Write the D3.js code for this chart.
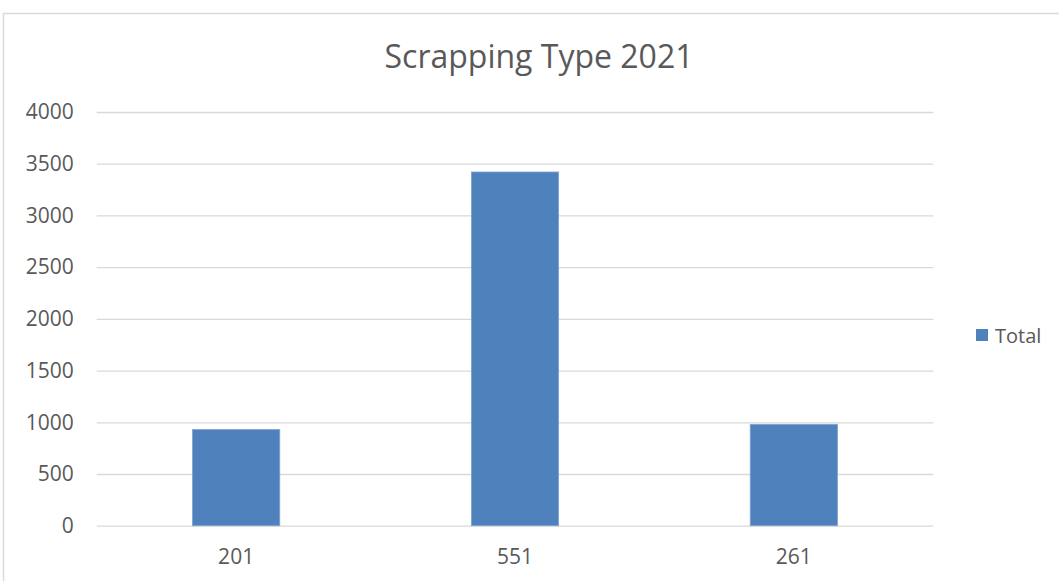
<!DOCTYPE html>
<html><head><meta charset="utf-8">
<script src="https://cdn.jsdelivr.net/npm/d3@7"></script>
<style>body{margin:0;background:#fff}svg{display:block}text{font-family:"Open Sans","Liberation Sans",sans-serif;fill:#595959}</style>
</head><body><svg id="c" width="1059" height="581"></svg>
<script>
const categories = ["201", "551", "261"];
const totals = [930, 3420, 980];
const yTicks = [0, 500, 1000, 1500, 2000, 2500, 3000, 3500, 4000];
const title = "Scrapping Type 2021";
const seriesName = "Total";

const svg = d3.select("#c");
svg.append("rect").attr("x", 3.5).attr("y", 13.5).attr("width", 1070).attr("height", 600)
  .attr("fill", "#fff").attr("stroke", "#d9d9d9").attr("stroke-width", 1.5);

const m = {left: 96.7, right: 933.3, top: 112, bottom: 525.7};
const x = d3.scaleBand().domain(categories).range([m.left, m.right]).padding(0);
const y = d3.scaleLinear().domain([0, 4000]).range([m.bottom, m.top]);

const yAxis = d3.axisLeft(y).tickValues(yTicks).tickFormat(d3.format("d"))
  .tickSize(-(m.right - m.left)).tickPadding(23);
const gy = svg.append("g").attr("transform", `translate(${m.left},0)`).call(yAxis);
gy.select(".domain").remove();
gy.selectAll("line").attr("stroke", "#d9d9d9").attr("stroke-width", 1.3);
gy.selectAll("text").style("font-size", "21px").attr("fill", "#595959");

const xAxis = d3.axisBottom(x).tickSize(0).tickPadding(27);
const gx = svg.append("g").attr("transform", `translate(0,${m.bottom})`).call(xAxis);
gx.select(".domain").remove();
gx.selectAll("text").style("font-size", "21px").attr("fill", "#595959").attr("dy", "0.55em");

const bw = x.bandwidth() * 0.313;
svg.append("g").selectAll("rect").data(categories).join("rect")
  .attr("x", (d) => x(d) + x.bandwidth() / 2 - bw / 2)
  .attr("width", bw)
  .attr("y", (d, i) => y(totals[i]))
  .attr("height", (d, i) => y(0) - y(totals[i]))
  .attr("fill", "#4F81BD").attr("stroke", "#7fa3cf").attr("stroke-width", 0.8);

svg.append("text").attr("x", 539).attr("y", 68).attr("text-anchor", "middle")
  .style("font-size", "32px").text(title);

svg.append("rect").attr("x", 976).attr("y", 329).attr("width", 12).attr("height", 12).attr("fill", "#4F81BD");
svg.append("text").attr("x", 995).attr("y", 343).style("font-size", "20px").text(seriesName);
</script></body></html>
